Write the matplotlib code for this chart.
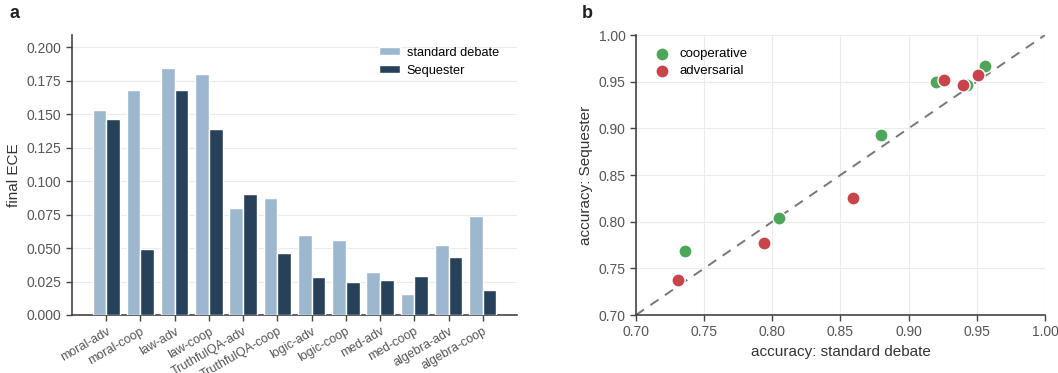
import numpy as np
import matplotlib
matplotlib.use("Agg")
import matplotlib.pyplot as plt

plt.rcParams['font.family'] = ['Liberation Sans', 'DejaVu Sans']

# panel a : final ECE
tasks = ["moral-adv", "moral-coop", "law-adv", "law-coop", "TruthfulQA-adv", "TruthfulQA-coop",
         "logic-adv", "logic-coop", "med-adv", "med-coop", "algebra-adv", "algebra-coop"]
ece_standard = [0.153, 0.168, 0.184, 0.180, 0.080, 0.087, 0.060, 0.056, 0.032, 0.016, 0.052, 0.074]
ece_sequester = [0.146, 0.049, 0.168, 0.139, 0.090, 0.046, 0.028, 0.025, 0.026, 0.029, 0.043, 0.019]

# panel b : accuracy
coop_std = [0.736, 0.805, 0.880, 0.920, 0.943, 0.956]
coop_seq = [0.769, 0.804, 0.893, 0.950, 0.946, 0.967]
adv_std = [0.731, 0.794, 0.859, 0.926, 0.940, 0.951]
adv_seq = [0.737, 0.777, 0.825, 0.952, 0.946, 0.957]

light = "#9db7cf"
dark = "#27415a"
green = "#4ea65a"
red = "#c8434a"
txt = "#555555"
spine = "#444444"

fig = plt.figure(figsize=(10.58, 3.73), dpi=100)
ax1 = fig.add_axes([72/1058, 1-315/373, 445/1058, 280/373])
ax2 = fig.add_axes([636/1058, 1-315/373, 409/1058, 280/373])

x = np.arange(len(tasks))
w = 0.4
ax1.bar(x - w/2, ece_standard, w, color=light, edgecolor="white", linewidth=1, label="standard debate", zorder=3)
ax1.bar(x + w/2, ece_sequester, w, color=dark, edgecolor="white", linewidth=1, label="Sequester", zorder=3)
ax1.set_xlim(-1, 12)
ax1.set_ylim(0, 0.209)
ax1.set_yticks(np.arange(0, 0.201, 0.025))
ax1.set_yticklabels([f"{v:.3f}" for v in np.arange(0, 0.201, 0.025)])
ax1.set_xticks(x)
ax1.set_xticklabels(tasks, rotation=30, ha="right", rotation_mode="anchor")
ax1.set_ylabel("final ECE", fontsize=11, color="#333333")
ax1.yaxis.grid(True, color="#ebebeb", linewidth=0.8, zorder=0)
ax1.legend(loc="upper right", bbox_to_anchor=(1 - 9/445, 1 - 3/280), frameon=False, fontsize=9.2,
           handlelength=1.7, handleheight=0.6, labelspacing=0.45, handletextpad=0.5, borderaxespad=0.3)
for s in ["top", "right"]:
    ax1.spines[s].set_visible(False)

ax2.plot([0.7, 1.0], [0.7, 1.0], linestyle=(0, (5, 4)), color="#777777", linewidth=1.4, zorder=2)
ax2.scatter(coop_std, coop_seq, s=90, color=green, edgecolor="white", linewidth=1, label="cooperative", zorder=3)
ax2.scatter(adv_std, adv_seq, s=90, color=red, edgecolor="white", linewidth=1, label="adversarial", zorder=3)
ax2.set_xlim(0.7, 1.0)
ax2.set_ylim(0.7, 1.0)
ticks = np.arange(0.7, 1.001, 0.05)
ax2.set_xticks(ticks)
ax2.set_yticks(ticks)
ax2.set_xticklabels([f"{v:.2f}" for v in ticks])
ax2.set_yticklabels([f"{v:.2f}" for v in ticks])
ax2.set_xlabel("accuracy: standard debate", fontsize=11, color="#333333")
ax2.set_ylabel("accuracy: Sequester", fontsize=11, color="#333333")
ax2.grid(True, color="#ebebeb", linewidth=0.8, zorder=0)
ax2.set_axisbelow(True)
ax2.legend(loc="upper left", frameon=False, fontsize=9.5, handletextpad=0.3,
           labelspacing=0.35, borderaxespad=0.6)
for s in ["top", "right"]:
    ax2.spines[s].set_visible(False)

for ax in (ax1, ax2):
    for s in ["left", "bottom"]:
        ax.spines[s].set_color(spine)
        ax.spines[s].set_linewidth(1.2)
    ax.tick_params(colors=spine, labelcolor=txt, labelsize=10, length=4, width=1)
    for t in ax.get_xticklabels():
        t.set_color(txt)

ax1.tick_params(axis="x", labelsize=9)

fig.text(10/1058, 1-14/373, "a", fontsize=13, fontweight="bold", va="center", color="#222222")
fig.text(582/1058, 1-14/373, "b", fontsize=13, fontweight="bold", va="center", color="#222222")

fig.savefig("out.png", dpi=100)
